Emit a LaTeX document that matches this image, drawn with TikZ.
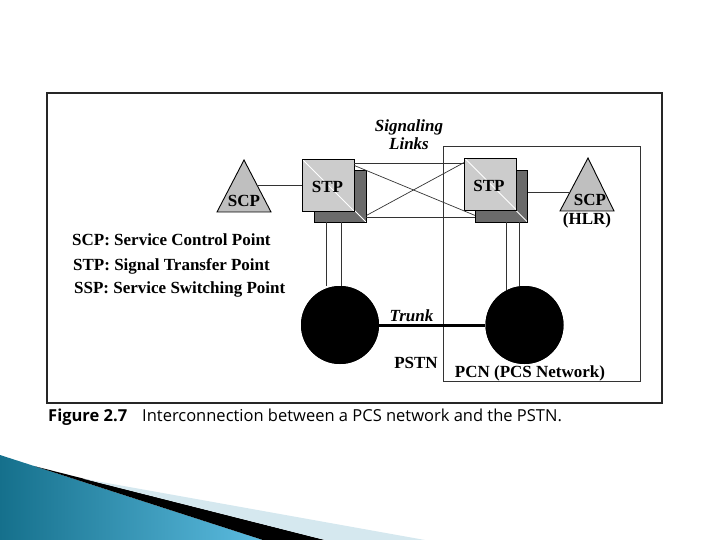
\documentclass[tikz,border=0pt]{standalone}
\usepackage{fontspec}
\setmainfont{Liberation Serif}
\newfontfamily\capfont{Open Sans}
\usepackage{tikz}
\definecolor{swdark}{HTML}{15708C}
\definecolor{swlight}{HTML}{5CBCE0}
\definecolor{swpale}{HTML}{D5E8EF}

\begin{document}
\begin{tikzpicture}[x=1pt,y=-1pt,
  lbl/.style={font=\fontsize{17}{18}\selectfont\bfseries, inner sep=0pt},
  lbli/.style={font=\fontsize{17}{18}\selectfont\bfseries\itshape, inner sep=0pt},
  stpfront/.style={draw=black, line width=0.9pt, fill=black!20, minimum size=52pt, inner sep=0pt,
    path picture={\draw[white, line width=1pt] (path picture bounding box.north west) -- (path picture bounding box.south east);}},
  stpback/.style={stpfront, fill=black!58},
  scptri/.style={draw=black, line width=0.9pt, fill=black!25},
  link/.style={draw=black!80, line width=0.7pt},
  ssp/.style={circle, fill=black, minimum size=78pt, inner sep=0pt}]
\useasboundingbox (0,0) rectangle (720,540);
% frames
\draw[line width=1.3pt, black!85] (47,93) rectangle (662,403);
\draw[line width=0.8pt, black!80] (443,146) rectangle (640,381);
% signal transfer points
\node[stpback] (stpLb) at (340,196) {};
\node[stpfront] (stpL) at (328,185) {};
\node[stpback] (stpRb) at (501.5,196) {};
\node[stpfront] (stpR) at (490.5,184) {};
\node[lbl, anchor=base] (stpLt) at (327.5,193) {STP};
\node[lbl, anchor=base] (stpRt) at (489,192) {STP};
% signaling links
\draw[link] ([yshift=-5pt]stpL.north east) -- ([yshift=-6pt]stpR.north west);
\draw[link] ([yshift=5pt]stpLb.south east) -- ([yshift=5pt]stpRb.south west);
\draw[link] ([yshift=-7pt]stpL.north east) -- ([yshift=7pt]stpRb.south west);
\draw[link] ([yshift=7pt]stpLb.south east) -- ([yshift=-5pt]stpR.north west);
% service control points
\draw[scptri] (244,160) -- (271,212) -- (217,212) -- cycle;
\draw[scptri] (588,158) -- (614,211) -- (560,211) -- cycle;
\coordinate (scpL) at (257,185);
\coordinate (scpR) at (570,192);
\draw[link] (scpL) -- (scpL -| stpL.west);
\draw[link] (stpRb.east |- scpR) -- (scpR);
\node[lbl, anchor=base] (scpLt) at (244,207) {SCP};
\node[lbl, anchor=base] (scpRt) at (590,206) {SCP};
\node[lbl, anchor=base] (hlr) at (587,225) {(HLR)};
% switching points and trunk
\node[ssp] (sspL) at (340,325) {};
\node[ssp] (sspR) at (524.5,325) {};
\foreach \dx in {-14,1}
  \draw[link] ([xshift=\dx pt]stpLb.south) -- ([xshift=\dx pt]sspL.north);
\draw[link] ([xshift=4.5pt]stpRb.south) -- ([xshift=-18.5pt]sspR.center);
\draw[link] ([xshift=17.5pt]stpRb.south) -- ([xshift=-5.5pt]sspR.center);
\node[ssp] at (sspL) {};
\node[ssp] at (sspR) {};
\draw[line width=3pt] (sspL) -- (sspR);
% labels
\node[lbli, align=center] (sig) at (409,135) {Signaling\\Links};
\node[lbli, anchor=base] (trunk) at (411.5,321) {Trunk};
\node[lbl, anchor=base] (pstn) at (416,368) {PSTN};
\node[lbl, anchor=base] (pcn) at (530,377) {PCN (PCS Network)};
\node[lbl, anchor=base west] (kscp) at (72,245) {SCP: Service Control Point};
\node[lbl, anchor=base west] (kstp) at (73,270) {STP: Signal Transfer Point};
\node[lbl, anchor=base west] (kssp) at (74,293) {SSP: Service Switching Point};
% caption
\node[anchor=base west, inner sep=0pt, font=\capfont\fontsize{16.5}{18}\selectfont] (cap) at (48,421)
  {\textbf{Figure 2.7}\hspace{15pt}Interconnection between a PCS network and the PSTN.};
% slide swoosh
\shade[left color=swdark, right color=swlight] (0,455) -- (263,540) -- (0,540) -- cycle;
\fill[black] (35,466.3) -- (325,540) -- (263,540) -- cycle;
\fill[swpale] (83,478.7) -- (425,540) -- (325,540) -- cycle;
\end{tikzpicture}
\end{document}
